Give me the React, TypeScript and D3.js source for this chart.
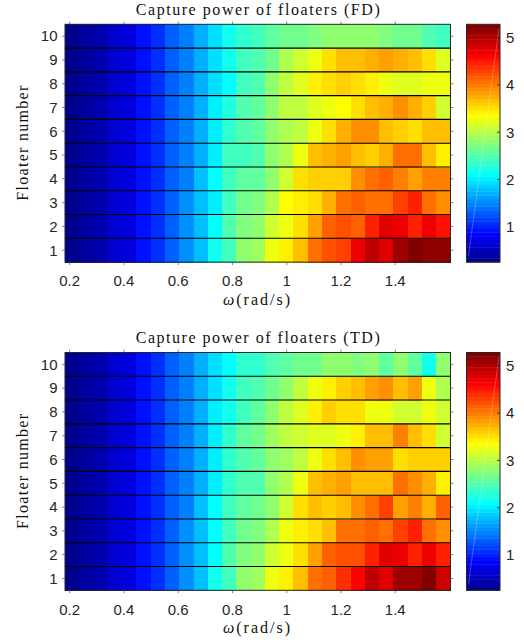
import React from "react";
import * as d3 from "d3";

// ---------------- data ----------------
const floaters = [1, 2, 3, 4, 5, 6, 7, 8, 9, 10];
const xTicks = [0.2, 0.4, 0.6, 0.8, 1, 1.2, 1.4];
const colorTicks = [1, 2, 3, 4, 5];
const omegaMin = 0.1827; // left edge of first cell
const omegaMax = 1.6036; // right edge of last cell
const powerMin = 0.25;
const powerMax = 5.285;

// rows: floater 1 .. floater 10, 27 frequency columns each
const fdPower = [
  [0.27, 0.34, 0.44, 0.58, 0.72, 0.9, 1.1, 1.3, 1.52, 1.78, 2.14, 2.45, 2.77, 2.9, 3.27, 3.46, 3.71, 4.03, 4.21, 4.28, 4.66, 4.91, 4.81, 5.06, 5.28, 5.13, 5.18],
  [0.27, 0.34, 0.44, 0.58, 0.72, 0.9, 1.1, 1.3, 1.52, 1.78, 2.08, 2.5, 2.75, 2.83, 3.15, 3.3, 3.55, 3.84, 4.12, 4.25, 4.18, 4.47, 4.78, 4.72, 4.43, 4.66, 4.5],
  [0.27, 0.34, 0.44, 0.58, 0.72, 0.9, 1.1, 1.3, 1.52, 1.76, 2.05, 2.42, 2.62, 2.7, 2.96, 3.33, 3.4, 3.52, 3.74, 4.03, 4.15, 4.09, 4.09, 4.34, 4.47, 4.09, 3.87],
  [0.27, 0.34, 0.44, 0.58, 0.72, 0.9, 1.1, 1.3, 1.5, 1.75, 2.08, 2.42, 2.55, 2.58, 2.83, 3.15, 3.52, 3.63, 3.63, 3.63, 3.87, 4.09, 4.18, 3.96, 3.8, 4.0, 4.0],
  [0.27, 0.34, 0.44, 0.58, 0.72, 0.9, 1.1, 1.3, 1.5, 1.74, 2.05, 2.39, 2.45, 2.52, 2.77, 2.93, 3.24, 3.65, 3.74, 3.8, 3.71, 3.63, 3.77, 4.03, 4.03, 3.71, 3.4],
  [0.27, 0.34, 0.44, 0.58, 0.72, 0.9, 1.1, 1.3, 1.5, 1.74, 2.02, 2.3, 2.5, 2.58, 2.77, 2.96, 3.05, 3.24, 3.52, 3.77, 3.87, 3.87, 3.71, 3.59, 3.5, 3.65, 3.65],
  [0.27, 0.34, 0.44, 0.58, 0.72, 0.9, 1.1, 1.3, 1.5, 1.72, 2.0, 2.26, 2.5, 2.58, 2.83, 3.02, 3.08, 3.21, 3.24, 3.33, 3.52, 3.65, 3.77, 3.9, 3.77, 3.59, 3.15],
  [0.27, 0.34, 0.44, 0.58, 0.72, 0.9, 1.1, 1.3, 1.5, 1.72, 1.98, 2.1, 2.45, 2.52, 2.77, 3.02, 3.21, 3.4, 3.52, 3.59, 3.52, 3.4, 3.3, 3.21, 3.21, 3.3, 3.3],
  [0.27, 0.34, 0.44, 0.58, 0.72, 0.9, 1.1, 1.3, 1.5, 1.72, 1.95, 2.14, 2.39, 2.52, 2.64, 2.96, 3.15, 3.27, 3.52, 3.65, 3.71, 3.77, 3.84, 3.77, 3.71, 3.5, 3.21],
  [0.27, 0.34, 0.44, 0.58, 0.72, 0.9, 1.1, 1.3, 1.5, 1.7, 1.95, 2.2, 2.35, 2.42, 2.55, 2.62, 2.68, 2.75, 2.77, 2.77, 2.77, 2.77, 2.7, 2.64, 2.62, 2.52, 2.45],
];

const tdPower = [
  [0.27, 0.34, 0.44, 0.58, 0.72, 0.9, 1.1, 1.3, 1.52, 1.78, 2.14, 2.45, 2.77, 2.9, 3.24, 3.46, 3.68, 4.03, 4.18, 4.4, 4.6, 4.97, 4.81, 5.1, 5.1, 5.28, 4.88],
  [0.27, 0.34, 0.44, 0.58, 0.72, 0.9, 1.1, 1.3, 1.52, 1.78, 2.1, 2.5, 2.75, 2.83, 3.12, 3.3, 3.52, 3.84, 4.12, 4.25, 4.25, 4.47, 4.75, 4.72, 4.43, 4.66, 4.47],
  [0.27, 0.34, 0.44, 0.58, 0.72, 0.9, 1.1, 1.3, 1.52, 1.76, 2.08, 2.45, 2.62, 2.7, 2.96, 3.24, 3.4, 3.52, 3.65, 4.03, 4.09, 4.18, 4.09, 4.28, 4.47, 4.09, 3.87],
  [0.27, 0.34, 0.44, 0.58, 0.72, 0.9, 1.1, 1.3, 1.5, 1.75, 2.08, 2.42, 2.58, 2.64, 2.83, 3.12, 3.55, 3.68, 3.59, 3.65, 3.87, 4.03, 4.28, 3.8, 3.96, 3.77, 4.15],
  [0.27, 0.34, 0.44, 0.58, 0.72, 0.9, 1.1, 1.3, 1.5, 1.74, 2.05, 2.35, 2.5, 2.52, 2.77, 2.96, 3.27, 3.68, 3.74, 3.8, 3.65, 3.71, 3.71, 4.09, 3.87, 3.77, 3.4],
  [0.27, 0.34, 0.44, 0.58, 0.72, 0.9, 1.1, 1.3, 1.5, 1.74, 2.02, 2.3, 2.5, 2.58, 2.77, 2.9, 3.05, 3.24, 3.55, 3.68, 3.87, 3.8, 3.8, 3.52, 3.59, 3.59, 3.59],
  [0.27, 0.34, 0.44, 0.58, 0.72, 0.9, 1.1, 1.3, 1.5, 1.74, 2.02, 2.3, 2.55, 2.64, 2.9, 3.05, 3.15, 3.21, 3.21, 3.3, 3.4, 3.71, 3.71, 3.96, 3.71, 3.52, 3.15],
  [0.27, 0.34, 0.44, 0.58, 0.72, 0.9, 1.1, 1.3, 1.5, 1.72, 2.0, 2.2, 2.45, 2.58, 2.77, 3.05, 3.21, 3.4, 3.59, 3.5, 3.5, 3.3, 3.3, 3.12, 3.12, 3.3, 3.12],
  [0.27, 0.34, 0.44, 0.58, 0.72, 0.9, 1.1, 1.3, 1.5, 1.72, 1.98, 2.14, 2.39, 2.52, 2.64, 2.83, 3.05, 3.24, 3.4, 3.59, 3.71, 3.8, 3.87, 3.71, 3.8, 3.24, 2.96],
  [0.27, 0.34, 0.44, 0.58, 0.72, 0.9, 1.1, 1.3, 1.5, 1.7, 1.93, 2.12, 2.3, 2.36, 2.52, 2.58, 2.64, 2.66, 2.77, 2.77, 2.7, 2.83, 2.58, 2.77, 2.58, 2.14, 2.77],
];

// ---------------- MATLAB jet(64) ----------------
function jet(m: number): string[] {
  const n = Math.ceil(m / 4);
  const u: number[] = [];
  for (let i = 1; i <= n; i++) u.push(i / n);
  for (let i = 1; i < n; i++) u.push(1);
  for (let i = n; i >= 1; i--) u.push(i / n);
  const gStart = Math.ceil(n / 2) - (m % 4 === 1 ? 1 : 0);
  const J = Array.from({ length: m }, () => [0, 0, 0]);
  u.forEach((val, i) => {
    const g = gStart + i + 1;
    const r = g + n;
    const b = g - n;
    if (r >= 1 && r <= m) J[r - 1][0] = val;
    if (g >= 1 && g <= m) J[g - 1][1] = val;
    if (b >= 1 && b <= m) J[b - 1][2] = val;
  });
  return J.map(([r, g, b]) => d3.rgb(r * 255, g * 255, b * 255).formatHex());
}
const jetColors = jet(64);

// ---------------- layout ----------------
const W = 524;
const H = 644;
const plotLeft = 65;
const plotRight = 450.5;
const plotH = 237.8;
const cbLeft = 466.5;
const cbRight = 500;
const axisColor = "#262626";
const sans = "'Liberation Sans', Arial, Helvetica, sans-serif";
const serif = "'Liberation Serif', 'Times New Roman', serif";

const color = d3.scaleQuantize<string>().domain([powerMin, powerMax]).range(jetColors);

function Panel({ top, title, data }: { top: number; title: string; data: number[][] }) {
  const bottom = top + plotH;
  const nCols = data[0].length;
  const xBand = d3.scaleBand<number>().domain(d3.range(nCols)).range([plotLeft, plotRight]).padding(0);
  const xLin = d3.scaleLinear().domain([omegaMin, omegaMax]).range([plotLeft, plotRight]);
  const yBand = d3.scaleBand<number>().domain([...floaters].reverse()).range([top, bottom]).padding(0);
  const cScale = d3.scaleLinear().domain([powerMin, powerMax]).range([bottom, top]);
  const bw = xBand.bandwidth();
  const bh = yBand.bandwidth();
  const levels = d3.range(jetColors.length);
  const levelH = (bottom - top) / jetColors.length;
  const midX = (plotLeft + plotRight) / 2;
  const midY = (top + bottom) / 2;

  return (
    <g>
      {/* cells */}
      {data.map((row, ri) =>
        row.map((v, ci) => (
          <rect
            key={`c${ri}-${ci}`}
            x={xBand(ci)!}
            y={yBand(floaters[ri])!}
            width={bw + 0.6}
            height={bh + 0.6}
            fill={color(v)}
            shapeRendering="crispEdges"
          />
        ))
      )}
      {/* row separators */}
      {floaters.slice(0, floaters.length - 1).map((f) => {
        const y = yBand(f)!;
        return <line key={`s${f}`} x1={plotLeft} x2={plotRight} y1={y} y2={y} stroke="#000" strokeWidth={1.1} />;
      })}
      {/* box */}
      <rect x={plotLeft} y={top} width={plotRight - plotLeft} height={plotH} fill="none" stroke={axisColor} strokeWidth={1} />
      {/* x ticks */}
      {xTicks.map((t) => (
        <g key={`xt${t}`}>
          <line x1={xLin(t)} x2={xLin(t)} y1={bottom} y2={bottom + 3} stroke="#555" strokeWidth={0.7} />
          <line x1={xLin(t)} x2={xLin(t)} y1={top} y2={top - 3} stroke="#555" strokeWidth={0.7} />
          <text x={xLin(t)} y={bottom + 24.3} textAnchor="middle" fontFamily={sans} fontSize={15} fill={axisColor}>
            {String(t)}
          </text>
        </g>
      ))}
      {/* y ticks */}
      {floaters.map((f) => {
        const y = yBand(f)! + bh / 2;
        return (
          <g key={`yt${f}`}>
            <line x1={plotLeft} x2={plotLeft - 3} y1={y} y2={y} stroke="#555" strokeWidth={0.7} />
            <line x1={plotRight} x2={plotRight + 3} y1={y} y2={y} stroke="#555" strokeWidth={0.7} />
            <text x={57.5} y={y + 5.3} textAnchor="end" fontFamily={sans} fontSize={15} fill={axisColor}>
              {f}
            </text>
          </g>
        );
      })}
      {/* title */}
      <text x={midX} y={top - 9.8} textAnchor="middle" fontFamily={serif} fontSize={16} fill="#111" textLength={244} lengthAdjust="spacing">
        {title}
      </text>
      {/* x label */}
      <text x={256.5} y={bottom + 42.5} textAnchor="middle" fontFamily={serif} fontSize={16} fill="#111" textLength={67} lengthAdjust="spacing">
        <tspan fontStyle="italic">ω</tspan>
        <tspan>(rad/s)</tspan>
      </text>
      {/* y label */}
      <text
        transform={`translate(27.5, ${midY}) rotate(-90)`}
        textAnchor="middle"
        fontFamily={serif}
        fontSize={16}
        fill="#111"
        textLength={115}
        lengthAdjust="spacing"
      >
        Floater number
      </text>
      {/* colorbar */}
      {levels.map((i) => (
        <rect
          key={`cb${i}`}
          x={cbLeft}
          y={bottom - (i + 1) * levelH}
          width={cbRight - cbLeft}
          height={levelH + 0.4}
          fill={jetColors[i]}
        />
      ))}
      <line x1={cbLeft + 2} y1={bottom - 6} x2={cbRight - 1} y2={top + 4} stroke="#fff" strokeOpacity={0.35} strokeWidth={0.7} />
      <rect x={cbLeft} y={top} width={cbRight - cbLeft} height={plotH} fill="none" stroke={axisColor} strokeWidth={1} />
      {colorTicks.map((t) => (
        <g key={`ct${t}`}>
          <line x1={cbRight} x2={cbRight - 3} y1={cScale(t)} y2={cScale(t)} stroke={axisColor} strokeWidth={0.8} />
          <text x={506} y={cScale(t) + 5.3} fontFamily={sans} fontSize={15} fill={axisColor}>
            {t}
          </text>
        </g>
      ))}
    </g>
  );
}

export default function App() {
  return (
    <svg
      width={W}
      height={H}
      viewBox={`0 0 ${W} ${H}`}
      style={{ position: "absolute", left: 0, top: 0, background: "#fff" }}
    >
      <rect x={0} y={0} width={W} height={H} fill="#fff" />
      <Panel top={24.3} title="Capture power of floaters (FD)" data={fdPower} />
      <Panel top={352.5} title="Capture power of floaters (TD)" data={tdPower} />
    </svg>
  );
}
